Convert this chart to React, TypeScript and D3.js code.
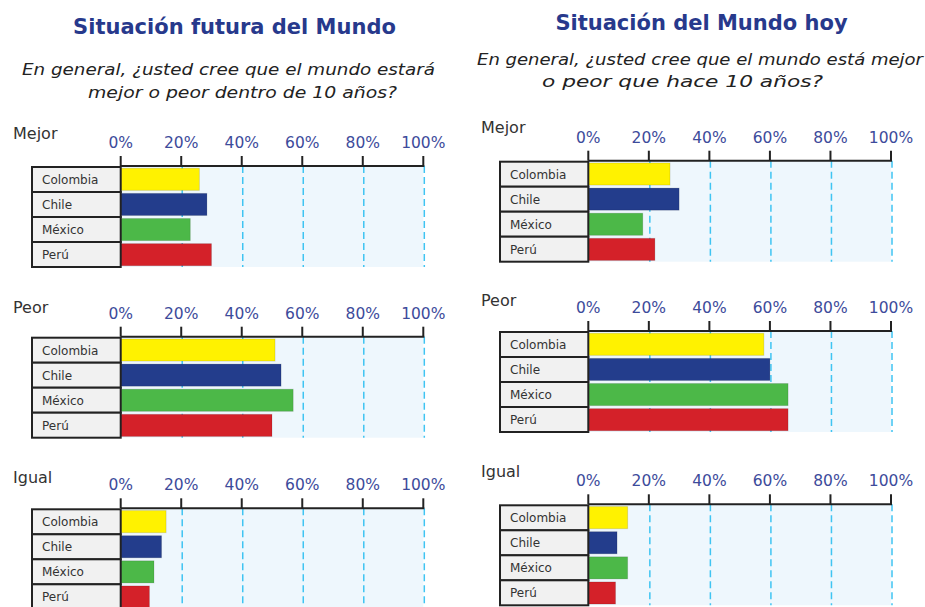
import * as React from "react";
import * as d3 from "d3";

const countries = ["Colombia", "Chile", "México", "Perú"];
const countryColors = ["#fff200", "#233d8c", "#4cb848", "#d42129"];
const tickValues = [0, 20, 40, 60, 80, 100];

// Situación futura del Mundo
const futureMejor = [26, 28.5, 23, 30];
const futurePeor = [51, 53, 57, 50];
const futureIgual = [15, 13.5, 11, 9.5];

// Situación del Mundo hoy
const todayMejor = [27, 30, 18, 22];
const todayPeor = [58, 60, 66, 66];
const todayIgual = [13, 9.5, 13, 9];

const groupLabels = ["Mejor", "Peor", "Igual"];

const FONT = "'DejaVu Sans', Verdana, sans-serif";

function Panel({
  x0,
  x100,
  boxX,
  axisY,
  label,
  labelY,
  values,
}: {
  x0: number;
  x100: number;
  boxX: number;
  axisY: number;
  label: string;
  labelY: number;
  values: number[];
}) {
  const xScale = d3.scaleLinear().domain([0, 100]).range([x0, x100]);
  const rowScale = d3
    .scaleBand<string>()
    .domain(countries)
    .range([axisY + 1, axisY + 101]);
  const barScale = d3
    .scaleBand<string>()
    .domain(countries)
    .range([axisY + 1, axisY + 101])
    .paddingInner(0.12)
    .paddingOuter(0.05);
  const top = axisY;
  const bottom = axisY + 101;

  return (
    <g>
      <text x={boxX - 19} y={labelY} fontSize={16} fontFamily={FONT} fill="#333">
        {label}
      </text>
      {/* plot background */}
      <rect x={x0} y={top} width={x100 - x0} height={bottom - top} fill="#eef7fd" />
      {/* gridlines */}
      {tickValues.slice(1).map((t) => (
        <line
          key={t}
          x1={xScale(t) + 1}
          x2={xScale(t) + 1}
          y1={top}
          y2={bottom}
          stroke="#3fc4f2"
          strokeWidth={1.5}
          strokeDasharray="7,4"
        />
      ))}
      {/* bars */}
      {countries.map((c, i) => (
        <rect
          key={c}
          x={xScale(0)}
          y={barScale(c)}
          width={xScale(values[i]) - xScale(0)}
          height={barScale.bandwidth()}
          fill={countryColors[i]}
          stroke="rgba(0,0,0,0.12)"
          strokeWidth={1}
        />
      ))}
      {/* country cells */}
      {countries.map((c) => (
        <g key={c}>
          <rect
            x={boxX}
            y={rowScale(c)}
            width={x0 - boxX}
            height={rowScale.bandwidth()}
            fill="#f1f1f1"
            stroke="#222"
            strokeWidth={2}
          />
          <text
            x={boxX + 10}
            y={(rowScale(c) ?? 0) + rowScale.bandwidth() / 2 + 4.5}
            fontSize={12}
            fontFamily={FONT}
            fill="#333"
          >
            {c}
          </text>
        </g>
      ))}
      {/* axis */}
      <line x1={x0} x2={x100 + 1} y1={axisY} y2={axisY} stroke="#222" strokeWidth={2} />
      {tickValues.map((t) => (
        <g key={t} transform={`translate(${xScale(t)}, ${axisY})`}>
          <line y1={0} y2={-10} stroke="#222" strokeWidth={2} />
          <text
            y={-18}
            textAnchor="middle"
            fontSize={15.5}
            fontFamily={FONT}
            fill="#3d4b9b"
          >
            {`${t}%`}
          </text>
        </g>
      ))}
    </g>
  );
}

export default function App() {
  const leftAxes = [166, 336.7, 508.3];
  const rightAxes = [160.7, 331, 504.3];
  const leftLabelY = [139, 312.5, 482.5];
  const rightLabelY = [133, 306, 477];
  const futureData = [futureMejor, futurePeor, futureIgual];
  const todayData = [todayMejor, todayPeor, todayIgual];

  return (
    <svg
      width={925}
      height={607}
      style={{ position: "absolute", left: 0, top: 0, background: "#fff" }}
    >
      <rect width={925} height={607} fill="#fff" />
      {/* left column titles */}
      <text
        x={234.5}
        y={34}
        textAnchor="middle"
        fontSize={21}
        fontWeight="bold"
        fontFamily={FONT}
        fill="#27398c"
      >
        Situación futura del Mundo
      </text>
      <text
        x={22}
        y={75}
        fontSize={15}
        fontStyle="italic"
        fontFamily={FONT}
        fill="#222"
        textLength={413}
        lengthAdjust="spacingAndGlyphs"
      >
        En general, ¿usted cree que el mundo estará
      </text>
      <text
        x={88}
        y={97.5}
        fontSize={15}
        fontStyle="italic"
        fontFamily={FONT}
        fill="#222"
        textLength={309}
        lengthAdjust="spacingAndGlyphs"
      >
        mejor o peor dentro de 10 años?
      </text>
      {/* right column titles */}
      <text
        x={701.5}
        y={30}
        textAnchor="middle"
        fontSize={21}
        fontWeight="bold"
        fontFamily={FONT}
        fill="#27398c"
      >
        Situación del Mundo hoy
      </text>
      <text
        x={477}
        y={64.5}
        fontSize={15}
        fontStyle="italic"
        fontFamily={FONT}
        fill="#222"
        textLength={446}
        lengthAdjust="spacingAndGlyphs"
      >
        En general, ¿usted cree que el mundo está mejor
      </text>
      <text
        x={542}
        y={86.5}
        fontSize={15}
        fontStyle="italic"
        fontFamily={FONT}
        fill="#222"
        textLength={281}
        lengthAdjust="spacingAndGlyphs"
      >
        o peor que hace 10 años?
      </text>

      {groupLabels.map((g, i) => (
        <Panel
          key={`l-${g}`}
          x0={120.7}
          x100={423.3}
          boxX={32}
          axisY={leftAxes[i]}
          label={g}
          labelY={leftLabelY[i]}
          values={futureData[i]}
        />
      ))}
      {groupLabels.map((g, i) => (
        <Panel
          key={`r-${g}`}
          x0={588.3}
          x100={891}
          boxX={500}
          axisY={rightAxes[i]}
          label={g}
          labelY={rightLabelY[i]}
          values={todayData[i]}
        />
      ))}
    </svg>
  );
}
